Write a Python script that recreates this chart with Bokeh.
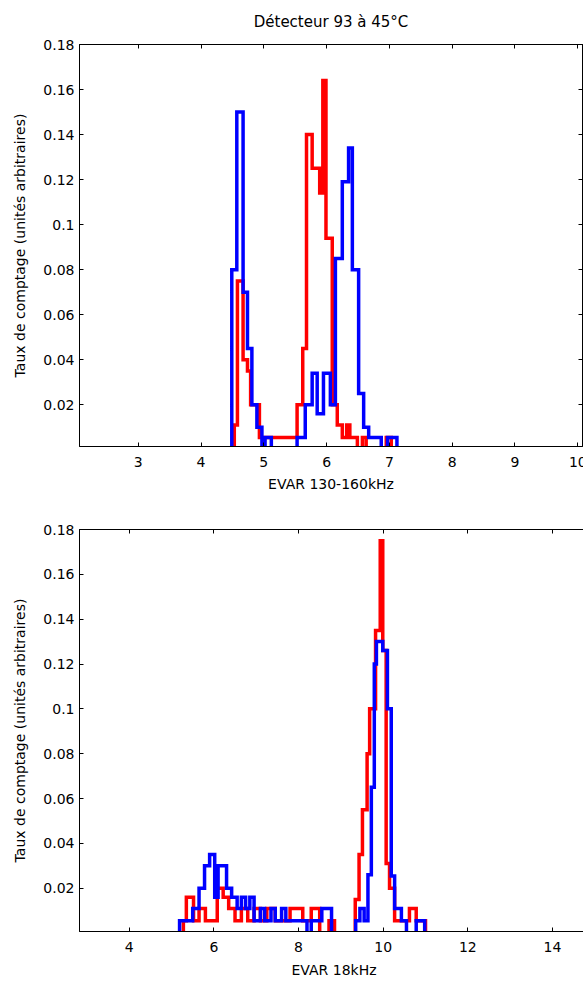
from bokeh.plotting import figure
from bokeh.layouts import column
from bokeh.models import FixedTicker, LinearAxis, Range1d, CustomLabelingPolicy
from bokeh.embed import file_html
from bokeh.resources import INLINE

# ---------------- data ----------------
title_text = "Détecteur 93 à 45°C"
y_label = "Taux de comptage (unités arbitraires)"

y_ticks = [0.02, 0.04, 0.06, 0.08, 0.1, 0.12, 0.14, 0.16, 0.18]
y_tick_labels = ["0.02", "0.04", "0.06", "0.08", "0.1", "0.12", "0.14", "0.16", "0.18"]

top_x_label = "EVAR 130-160kHz"
top_x_ticks = [3, 4, 5, 6, 7, 8, 9, 10]
top_x_tick_labels = ["3", "4", "5", "6", "7", "8", "9", "10"]

bot_x_label = "EVAR 18kHz"
bot_x_ticks = [4, 6, 8, 10, 12, 14]
bot_x_tick_labels = ["4", "6", "8", "10", "12", "14"]

# histogram bin edges / heights
top_red_edges = [4.53, 4.58, 4.67, 4.74, 4.79, 4.93, 5.53, 5.62, 5.68, 5.77, 5.89, 5.94,
                 5.99, 6.09, 6.17, 6.25, 6.32, 6.37, 6.49, 6.57, 6.63, 6.95, 7.03]
top_red_vals = [0.011, 0.075, 0.04, 0.035, 0.02, 0.0055, 0.02, 0.045, 0.14, 0.125, 0.114,
                0.164, 0.094, 0.02, 0.011, 0.0055, 0.011, 0.0055, 0, 0.0055, 0, 0.0055]

top_blue_edges = [4.49, 4.57, 4.67, 4.74, 4.81, 4.89, 4.97, 5.02, 5.12, 5.53, 5.66, 5.77,
                  5.85, 5.95, 6.06, 6.14, 6.25, 6.35, 6.41, 6.51, 6.59, 6.67, 6.87, 6.97, 7.12]
top_blue_vals = [0.08, 0.15, 0.07, 0.045, 0.02, 0.01, 0, 0.0055, 0, 0.0055, 0.02, 0.034,
                 0.016, 0.034, 0.02, 0.085, 0.119, 0.134, 0.08, 0.025, 0.01, 0.0055, 0, 0.0055]

bot_red_edges = [5.28, 5.35, 5.52, 5.65, 5.8, 6.08, 6.22, 6.35, 6.5, 6.65,
                 6.8, 6.95, 7.1, 7.25, 7.45, 7.8, 8.1, 8.3, 8.5, 8.72,
                 8.85, 9.34, 9.43, 9.51, 9.62, 9.68, 9.82, 9.93, 9.99, 10.07,
                 10.15, 10.27, 10.62, 10.78, 11.0]
bot_red_vals = [0.0055, 0.016, 0.0055, 0.011, 0.0055, 0.02, 0.016, 0.011, 0.0055, 0.011,
                0.0055, 0.011, 0.0055, 0.011, 0.0055, 0.011, 0.0055, 0.011, 0, 0.0055,
                0, 0.015, 0.035, 0.055, 0.08, 0.1, 0.135, 0.175, 0.126, 0.031,
                0.02, 0.0055, 0.011, 0.0055]

bot_blue_edges = [5.19, 5.5, 5.65, 5.78, 5.9, 6.02, 6.1, 6.3, 6.42, 6.55,
                  6.65, 6.75, 6.85, 6.95, 7.1, 7.2, 7.35, 7.45, 7.6, 7.7,
                  8.2, 8.3, 8.55, 8.78, 9.35, 9.45, 9.55, 9.64, 9.72, 9.79,
                  9.84, 9.99, 10.1, 10.19, 10.27, 10.43, 10.55, 10.78, 10.98]
bot_blue_vals = [0.0055, 0.011, 0.02, 0.03, 0.035, 0.016, 0.03, 0.02, 0.016, 0.011,
                 0.016, 0.011, 0.016, 0.0055, 0.011, 0.0055, 0.011, 0.0055, 0.011, 0.0055,
                 0, 0.0055, 0.011, 0, 0.0055, 0.011, 0.0055, 0.026, 0.065, 0.12,
                 0.13, 0.126, 0.1, 0.0255, 0.011, 0.0055, 0, 0.0055]

RED = "#ff0000"
BLUE = "#0000ff"
FONT = "DejaVu Sans"

NO_LABELS = CustomLabelingPolicy(code="""
for (const i of indices) { indices.unset(i) }
return indices
""")


def stairs(edges, vals):
    xs, ys = [edges[0]], [0.0]
    for i, v in enumerate(vals):
        xs += [edges[i], edges[i + 1]]
        ys += [v, v]
    xs.append(edges[-1])
    ys.append(0.0)
    return xs, ys


def style_axis(ax, ticks, labels, show_labels=True):
    ax.ticker = FixedTicker(ticks=ticks)
    ax.major_tick_in = 4
    ax.major_tick_out = 0
    ax.minor_tick_in = 0
    ax.minor_tick_out = 0
    ax.axis_line_color = "black"
    ax.major_tick_line_color = "black"
    ax.major_label_text_font = FONT
    ax.major_label_text_color = "black"
    ax.major_label_text_font_size = "14px"
    ax.axis_label_text_font = FONT
    ax.axis_label_text_font_style = "normal"
    ax.axis_label_text_font_size = "14px"
    ax.axis_label_text_color = "black"
    if show_labels:
        ax.major_label_overrides = {t: l for t, l in zip(ticks, labels)}
    else:
        ax.major_label_policy = NO_LABELS
        ax.major_label_standoff = 0


def make_panel(x_range, y_range, xt, xtl, xlabel, fw, fh, bl, bt, bb, ylab_standoff,
               xlab_standoff, title=None):
    p = figure(frame_width=fw, frame_height=fh, x_range=x_range, y_range=y_range,
               output_backend="svg", toolbar_location=None,
               min_border_left=bl, min_border_right=1, min_border_top=bt,
               min_border_bottom=bb, background_fill_color="white",
               border_fill_color="white", outline_line_color="black")
    p.grid.visible = False
    style_axis(p.xaxis[0], xt, xtl)
    style_axis(p.yaxis[0], y_ticks, y_tick_labels)
    p.xaxis[0].axis_label = xlabel
    p.xaxis[0].major_label_standoff = 10
    p.xaxis[0].axis_label_standoff = xlab_standoff
    p.yaxis[0].axis_label = y_label
    p.yaxis[0].major_label_standoff = 5
    p.yaxis[0].axis_label_standoff = ylab_standoff
    ra = LinearAxis()
    style_axis(ra, y_ticks, y_tick_labels, show_labels=False)
    p.add_layout(ra, "right")
    ta = LinearAxis()
    style_axis(ta, xt, xtl, show_labels=False)
    p.add_layout(ta, "above")
    if title:
        p.title.text = title
        p.title.align = "center"
        p.title.text_font = FONT
        p.title.text_font_style = "normal"
        p.title.text_font_size = "15px"
        p.title.text_color = "black"
        p.title.standoff = 2
    return p


top = make_panel(Range1d(2.065, 10.075), Range1d(0.00145, 0.18), top_x_ticks,
                 top_x_tick_labels, top_x_label, 503, 402, 79, 44, 52, 12, 6, title_text)
for e, v, c in [(top_red_edges, top_red_vals, RED), (top_blue_edges, top_blue_vals, BLUE)]:
    xs, ys = stairs(e, v)
    top.line(xs, ys, line_color=c, line_width=3.5, line_join="miter")

bot = make_panel(Range1d(2.826, 14.85), Range1d(0.0007, 0.18), bot_x_ticks,
                 bot_x_tick_labels, bot_x_label, 509, 402, 73, 31, 53, 12, 7)
for e, v, c in [(bot_red_edges, bot_red_vals, RED), (bot_blue_edges, bot_blue_vals, BLUE)]:
    xs, ys = stairs(e, v)
    bot.line(xs, ys, line_color=c, line_width=3.5, line_join="miter")

layout = column(top, bot, spacing=0)
open("out.html", "w").write(file_html(layout, INLINE))
